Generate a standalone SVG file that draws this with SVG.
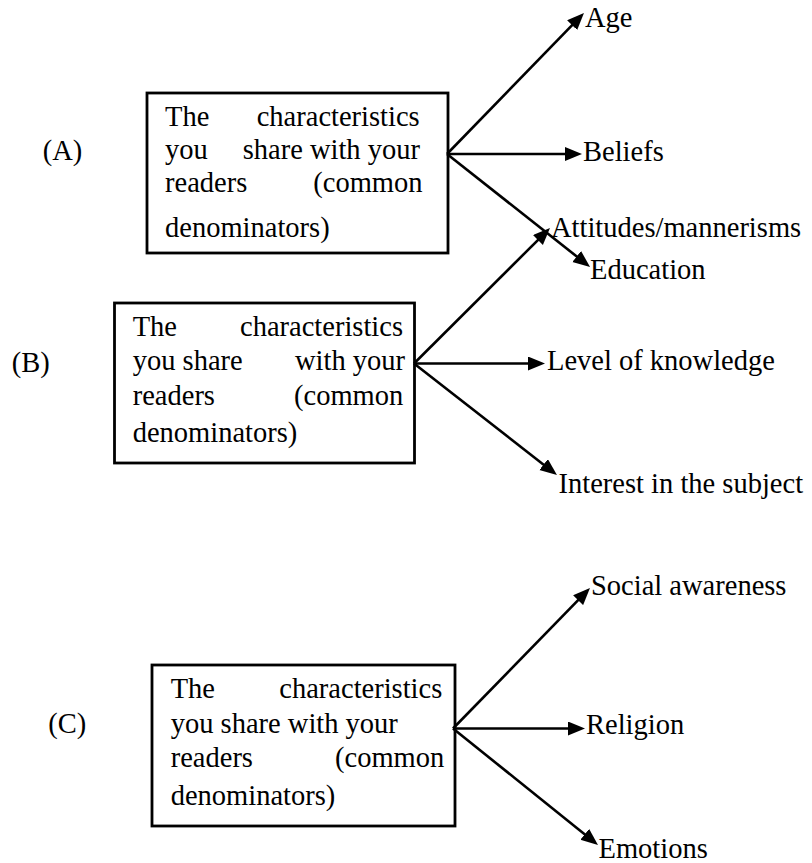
<svg xmlns="http://www.w3.org/2000/svg" width="812" height="863" viewBox="0 0 812 863">
<style>
  text { font-family: "Liberation Serif", "Times New Roman", serif; font-size: 28.5px; fill: #000; }
  .box { fill: #fff; stroke: #000; stroke-width: 2.8; }
  .conn { stroke: #000; stroke-width: 2.6; fill: none; marker-end: url(#arrow); }
</style>
<defs>
  <marker id="arrow" markerUnits="userSpaceOnUse" markerWidth="18" markerHeight="15" refX="7" refY="7" orient="auto">
    <path d="M0,0 L17,7 L0,14 z" fill="#000"/>
  </marker>
</defs>
<rect width="812" height="863" fill="#fff"/>

<g id="label-A"><text x="42.7" y="160">(A)</text></g>
<g id="label-B"><text x="11.7" y="371.7">(B)</text></g>
<g id="label-C"><text x="48.3" y="733">(C)</text></g>

<g id="node-A">
  <rect class="box" x="147" y="93" width="301" height="160"/>
  <text x="165" y="126">The</text><text x="256.7" y="126">characteristics</text>
  <text x="165" y="159">you</text><text x="242.7" y="159">share with your</text>
  <text x="165" y="192">readers</text><text x="313.3" y="192">(common</text>
  <text x="165" y="237">denominators)</text>
</g>

<g id="node-B">
  <rect class="box" x="114.5" y="303" width="300" height="160"/>
  <text x="132.7" y="335.7">The</text><text x="240" y="335.7">characteristics</text>
  <text x="132.7" y="370">you share</text><text x="295" y="370">with your</text>
  <text x="132.7" y="404.5">readers</text><text x="294" y="404.5">(common</text>
  <text x="132.7" y="441.7">denominators)</text>
</g>

<g id="node-C">
  <rect class="box" x="152" y="665" width="303" height="161"/>
  <text x="170.7" y="698.3">The</text><text x="279.3" y="698.3">characteristics</text>
  <text x="170.7" y="732.7">you share with your</text>
  <text x="170.7" y="766.7">readers</text><text x="335" y="766.7">(common</text>
  <text x="170.7" y="805">denominators)</text>
</g>

<g id="node-age"><text x="585" y="26.5">Age</text></g>
<g id="node-beliefs"><text x="583" y="161">Beliefs</text></g>
<g id="node-education"><text x="590" y="279">Education</text></g>
<g id="node-attitudes"><text x="551" y="236.7">Attitudes/mannerisms</text></g>
<g id="node-level"><text x="547" y="370">Level of knowledge</text></g>
<g id="node-interest"><text x="558.5" y="492.7">Interest in the subject</text></g>
<g id="node-social"><text x="591" y="595">Social awareness</text></g>
<g id="node-religion"><text x="586" y="734">Religion</text></g>
<g id="node-emotions"><text x="598.5" y="858">Emotions</text></g>

<g id="connectors">
  <line class="conn" x1="447" y1="154" x2="577" y2="20.2"/>
  <line class="conn" x1="447" y1="154" x2="572" y2="154"/>
  <line class="conn" x1="447" y1="154" x2="582.2" y2="260.8"/>
  <line class="conn" x1="414" y1="363.5" x2="542.9" y2="235.1"/>
  <line class="conn" x1="414" y1="363.5" x2="535" y2="363.5"/>
  <line class="conn" x1="414" y1="363.5" x2="549.1" y2="468.9"/>
  <line class="conn" x1="453" y1="728.5" x2="583" y2="595.2"/>
  <line class="conn" x1="453" y1="728.5" x2="575" y2="728.5"/>
  <line class="conn" x1="453" y1="728.5" x2="590.2" y2="838.7"/>
</g>
</svg>
